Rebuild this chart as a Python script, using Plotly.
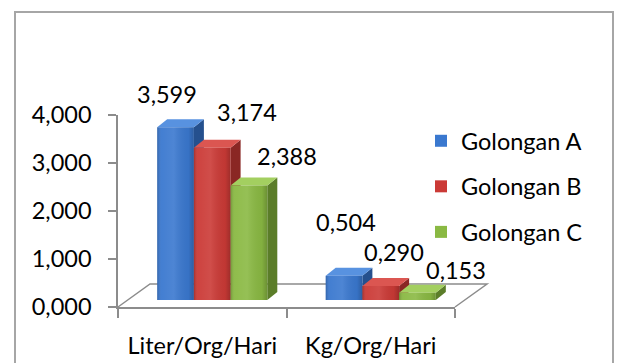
import plotly.graph_objects as go

# ---- data -------------------------------------------------------------
categories = ["Liter/Org/Hari", "Kg/Org/Hari"]
series_names = ["Golongan A", "Golongan B", "Golongan C"]
golongan_a = [3.599, 0.504]
golongan_b = [3.174, 0.290]
golongan_c = [2.388, 0.153]
y_ticks = [0, 1, 2, 3, 4]

series_values = [golongan_a, golongan_b, golongan_c]

# ---- styling ----------------------------------------------------------
W, H = 618, 363
FONT = "Lato"
FS = 23.5
front_colors = ["#3A78CF", "#CB3A36", "#8AB943"]
side_colors = ["#25508E", "#8A2724", "#5B7D29"]
top_colors = ["#5892E0", "#DB5651", "#A3CF60"]
axis_grey = "#8C8C8C"
# soft shading laid over each front face (dark edges, lighter middle)
shade_scale = [[0.0, "rgba(0,0,0,0.18)"], [0.12, "rgba(255,255,255,0.05)"],
               [0.45, "rgba(255,255,255,0.10)"], [0.85, "rgba(0,0,0,0.05)"],
               [1.0, "rgba(0,0,0,0.22)"]]

# label nudges (pixels) for each series / category
label_dx = [[-9, 2], [35, 13], [38, 39]]
label_dy = [[33, 54], [36, 34], [29, 23]]


def fx(p):
    return p / W


def fy(p):
    return 1 - p / H


# front plane (axes) and the slightly recessed plane the bars stand on
front_left, front_right = 118, 455
zero_y, top_y = 307, 115
plane_dx, plane_dy = 10, -7
px_per_cat = (front_right - front_left) / 2.0
px_per_unit = (zero_y - top_y) / 4.0

bar_w = 36.7 / px_per_cat
depth_x = 10 / px_per_cat
depth_y = 8 / px_per_unit

fig = go.Figure()

# keeps the front-plane axes (ticks, category labels) on the page
fig.add_trace(go.Scatter(x=[-0.5, 1.5], y=[0, 0], mode="none",
                         hoverinfo="skip", showlegend=False))

# side and top faces of the 3-D bars (drawn beneath the front faces)
for i, vals in enumerate(series_values):
    off = (i - 1) * bar_w
    for g, v in enumerate(vals):
        xl = g + off - bar_w / 2
        xr = g + off + bar_w / 2
        fig.add_trace(go.Scatter(
            x=[xr, xr + depth_x, xr + depth_x, xr, xr],
            y=[0, depth_y, v + depth_y, v, 0],
            fill="toself", mode="lines", line=dict(width=0),
            fillcolor=side_colors[i], hoverinfo="skip", showlegend=False,
            xaxis="x2", yaxis="y2"))
        fig.add_trace(go.Scatter(
            x=[xl, xr, xr + depth_x, xl + depth_x, xl],
            y=[v, v, v + depth_y, v + depth_y, v],
            fill="toself", mode="lines", line=dict(width=0),
            fillcolor=top_colors[i], hoverinfo="skip", showlegend=False,
            xaxis="x2", yaxis="y2"))

# front faces of the bars
for i, (name, vals) in enumerate(zip(series_names, series_values)):
    fig.add_trace(go.Bar(
        x=[0, 1], y=vals, name=name, width=bar_w,
        offset=(i - 1) * bar_w - bar_w / 2,
        marker=dict(color=front_colors[i], line=dict(width=0)),
        legendgroup=name, xaxis="x3", yaxis="y3"))

# shading over the front faces
for i, vals in enumerate(series_values):
    off = (i - 1) * bar_w
    for g, v in enumerate(vals):
        xl = g + off - bar_w / 2
        xr = g + off + bar_w / 2
        fig.add_trace(go.Scatter(
            x=[xl, xr, xr, xl, xl], y=[0, 0, v, v, 0],
            fill="toself", mode="lines", line=dict(width=0),
            fillgradient=dict(type="horizontal", colorscale=shade_scale),
            hoverinfo="skip", showlegend=False, xaxis="x4", yaxis="y4"))

# value labels
annotations = []
for i, vals in enumerate(series_values):
    off = (i - 1) * bar_w
    for g, v in enumerate(vals):
        annotations.append(dict(
            x=g + off, y=v, xref="x3", yref="y3",
            text=f"{v:.3f}".replace(".", ","), showarrow=False,
            xshift=label_dx[i][g], yshift=label_dy[i][g],
            font=dict(family=FONT, size=FS, color="black")))

# floor outline of the 3-D plot area
fd_x, fd_y = 32, -23
floor_path = (f"M {fx(front_left)},{fy(zero_y)} "
              f"L {fx(front_left + fd_x)},{fy(zero_y + fd_y)} "
              f"L {fx(front_right + fd_x)},{fy(zero_y + fd_y)} "
              f"L {fx(front_right)},{fy(zero_y)}")
shapes = [
    dict(type="path", path=floor_path, xref="paper", yref="paper",
         line=dict(color=axis_grey, width=1.5), layer="below"),
    dict(type="rect", xref="paper", yref="paper",
         x0=fx(15), x1=fx(613), y0=fy(380), y1=fy(12),
         line=dict(color="#A6A6A6", width=2), layer="below"),
]

bar_dom_x = [fx(front_left + plane_dx), fx(front_right + plane_dx)]
bar_dom_y = [fy(zero_y + plane_dy), fy(top_y + plane_dy)]
hidden = dict(visible=False, automargin=False)

fig.update_layout(
    width=W, height=H, margin=dict(l=0, r=0, t=0, b=0),
    paper_bgcolor="white", plot_bgcolor="rgba(0,0,0,0)",
    separators=",.", barmode="overlay",
    font=dict(family=FONT, size=FS, color="black"),
    xaxis=dict(domain=[fx(front_left), fx(front_right)], range=[-0.5, 1.5],
               tickvals=[0, 1], ticktext=categories, ticks="",
               showline=True, linecolor=axis_grey, linewidth=1.5,
               showgrid=False, zeroline=False, fixedrange=True,
               automargin=False, ticklabelstandoff=17,
               minor=dict(tick0=-0.5, dtick=1, ticks="outside", ticklen=9,
                          tickcolor=axis_grey, tickwidth=1.5, showgrid=False)),
    yaxis=dict(domain=[fy(zero_y), fy(top_y)], range=[0, 4],
               tickvals=y_ticks, tickformat=".3f", ticks="outside",
               ticklen=8, tickcolor=axis_grey, tickwidth=1.5,
               showline=True, linecolor=axis_grey, linewidth=1.5,
               showgrid=False, zeroline=False, automargin=False,
               ticklabelstandoff=12),
    xaxis2=dict(domain=bar_dom_x, range=[-0.5, 1.5], **hidden),
    yaxis2=dict(domain=bar_dom_y, range=[0, 4], **hidden),
    xaxis3=dict(overlaying="x2", range=[-0.5, 1.5], **hidden),
    yaxis3=dict(overlaying="y2", range=[0, 4], **hidden),
    xaxis4=dict(overlaying="x2", range=[-0.5, 1.5], **hidden),
    yaxis4=dict(overlaying="y2", range=[0, 4], **hidden),
    legend=dict(x=fx(421), y=fy(119), xanchor="left", yanchor="top",
                bgcolor="rgba(0,0,0,0)", tracegroupgap=12,
                font=dict(family=FONT, size=FS, color="black")),
    annotations=annotations, shapes=shapes,
)

fig.write_html("out.html")
